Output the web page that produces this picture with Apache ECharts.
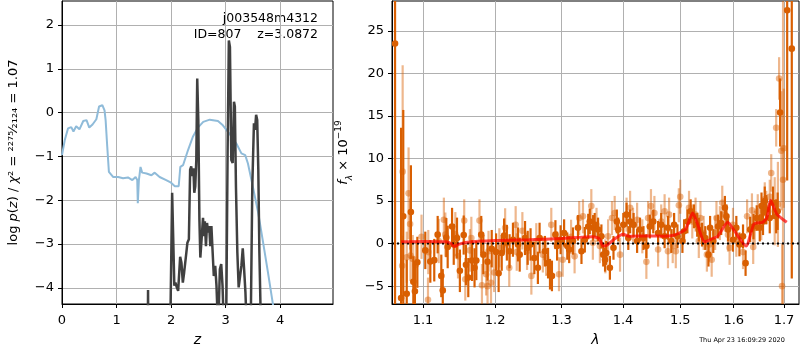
<!DOCTYPE html>
<html><head><meta charset="utf-8">
<script src="https://cdn.jsdelivr.net/npm/echarts@6/dist/echarts.min.js"></script>
<style>html,body{margin:0;padding:0;background:#fff}#c{width:800px;height:350px}</style>
</head><body><div id="c"></div>
<script>
// ---------- left panel: redshift probability ----------
const zPrior = [0,0.05,0.11,0.17,0.21,0.26,0.32,0.39,0.45,0.50,0.56,0.63,0.68,0.74,0.78,0.80,0.83,0.86,0.94,1.03,1.12,1.21,1.29,1.35,1.38,1.39,1.41,1.44,1.47,1.55,1.64,1.70,1.79,1.91,2.00,2.07,2.14,2.17,2.22,2.31,2.40,2.50,2.59,2.71,2.86,2.95,3.07,3.20,3.29,3.36,3.41,3.50,3.60,3.69,3.78,3.86,3.92];
const logpPrior = [-0.97,-0.63,-0.36,-0.33,-0.43,-0.31,-0.38,-0.19,-0.17,-0.34,-0.27,-0.15,0.14,0.17,0.05,-0.17,-0.78,-1.35,-1.47,-1.47,-1.50,-1.48,-1.54,-1.47,-1.54,-2.07,-1.54,-1.24,-1.37,-1.39,-1.43,-1.37,-1.47,-1.54,-1.60,-1.68,-1.68,-1.24,-1.20,-0.86,-0.55,-0.33,-0.21,-0.16,-0.19,-0.29,-0.48,-0.71,-0.93,-0.97,-1.16,-1.69,-2.30,-2.98,-3.67,-4.31,-4.8];

const zFit = [1.50,1.570,1.578,1.586,1.60,1.985,2.02,2.06,2.08,2.105,2.13,2.167,2.19,2.216,2.24,2.28,2.30,2.327,2.35,2.37,2.39,2.41,2.426,2.444,2.463,2.48,2.50,2.52,2.537,2.56,2.586,2.605,2.62,2.64,2.66,2.68,2.70,2.72,2.74,2.76,2.784,2.81,2.833,2.864,2.895,2.92,2.944,2.97,3.01,3.037,3.06,3.08,3.105,3.13,3.154,3.17,3.19,3.216,3.24,3.265,3.29,3.315,3.34,3.364,3.39,3.46,3.49,3.52,3.54,3.56,3.58,3.60,3.62,3.65,3.70];
const logpFit = [-6,-6,-4.05,-6,-6,-5,-1.83,-3.95,-3.88,-3.99,-4.07,-3.29,-3.42,-3.88,-3.65,-3.20,-2.97,-2.89,-1.30,-1.23,-1.45,-1.27,-1.83,-1.68,-1.08,0.78,-0.17,-2.44,-3.31,-2.89,-2.40,-2.82,-2.48,-3.05,-2.52,-2.74,-2.59,-3.05,-2.59,-3.12,-3.73,-3.50,-3.95,-5,-3.58,-3.46,-3.95,-5,-5,-0.92,1.65,1.50,-1.08,-1.15,0.25,0.14,-1.68,-3.20,-3.99,-3.95,-3.50,-3.10,-3.58,-4.10,-5,-5,-1.68,-0.24,-0.39,-0.05,-0.17,-1.30,-3.20,-5,-6];

const zTicks = [0,1,2,3,4];
const logpTicks = [-4,-3,-2,-1,0,1,2];

// ---------- right panel: spectrum ----------
const darkLam = [1.0635,1.0713,1.0741,1.0786,1.0840,1.0872,1.0893,1.0925,1.1030,1.1097,1.1150,1.1196,1.1245,1.1265,1.1313,1.1332,1.1392,1.1415,1.1460,1.1500,1.1553,1.1585,1.1617,1.1670,1.1705,1.1730,1.1800,1.1830,1.1890,1.1950,1.2013,1.2050,1.2095,1.2130,1.2170,1.2210,1.2260,1.2335,1.2360,1.2440,1.2480,1.2523,1.2580,1.2634,1.2660,1.2742,1.2790,1.2820,1.2850,1.2904,1.2930,1.2985,1.3040,1.3090,1.3120,1.3180,1.3260,1.3316,1.3370,1.3425,1.3450,1.3505,1.3530,1.3585,1.3640,1.3670,1.3700,1.3720,1.3780,1.3840,1.3896,1.3920,1.4005,1.4060,1.4090,1.4120,1.4180,1.4240,1.4290,1.4350,1.4400,1.4460,1.4520,1.4605,1.4660,1.4720,1.4780,1.4840,1.4890,1.4950,1.5040,1.5070,1.5130,1.5190,1.5250,1.5310,1.5340,1.5400,1.5460,1.5520,1.5550,1.5610,1.5700,1.5760,1.5830,1.5860,1.5890,1.5985,1.6050,1.6110,1.6180,1.6230,1.6320,1.6385,1.6450,1.6510,1.6545,1.6575,1.6610,1.6640,1.6710,1.6775,1.6840,1.6870,1.6920,1.7065,1.7160];
const darkFlux = [23.5,-6.4,3.2,-5.9,3.7,-4.5,-5.6,-2.2,-0.8,-2.1,-1.95,1.05,-3.8,-5.5,0.7,-0.4,2.0,-0.1,0.65,-3.2,1.0,-2.5,-4.0,-2.0,-2.85,-2.0,1.05,-1.3,-2.15,-0.6,-1.0,-3.5,-1.1,0.95,0.1,-0.9,0.45,-0.1,-1.3,0.65,-0.5,-0.1,-1.7,-2.85,0.65,-0.9,-2.3,-3.6,-3.8,1.05,-0.3,0.45,1.25,-0.3,-0.7,0.3,1.85,-0.9,0.45,2.0,2.6,1.85,2.2,1.65,0.85,-1.3,-1.9,-1.1,-2.85,-0.5,2.6,1.65,2.2,3.4,0.65,2.6,2.2,0.3,1.65,0.65,-0.3,2.0,2.6,1.25,2.2,0.85,1.85,0.3,2.2,0.85,0.3,1.45,2.6,3.8,3.2,2.2,1.65,1.05,0.65,-1.3,1.85,0.3,2.0,2.4,4.2,3.2,1.65,0.45,1.85,-0.1,0.85,-2.3,1.65,2.0,3.0,1.85,4.4,2.6,5.0,4.0,3.0,4.8,3.2,3.8,15.4,27.4,22.9];
const darkErr = [32,20,12.5,4,5.5,3,3.5,3,2.2,2.5,2.5,2.2,2.5,2.5,2.3,2.5,2.2,2.4,2.4,2.5,2.3,2.4,2.3,2.4,2.3,2.3,2.2,2.3,2.2,2.2,2.2,2.2,2.1,2.0,2.1,2.0,2.0,2.0,2.0,2.0,2.0,1.9,1.9,1.9,1.8,1.8,1.8,1.8,1.8,1.7,1.7,1.7,1.6,1.6,1.6,1.6,1.5,1.5,1.5,1.5,1.5,1.5,1.4,1.4,1.4,1.4,1.4,1.4,1.4,1.4,1.4,1.4,1.4,1.4,1.4,1.4,1.4,1.4,1.4,1.4,1.4,1.4,1.4,1.4,1.4,1.4,1.4,1.4,1.4,1.4,1.4,1.4,1.4,1.4,1.4,1.4,1.4,1.4,1.4,1.4,1.4,1.4,1.4,1.4,1.4,1.4,1.4,1.4,1.4,1.4,1.4,1.5,1.5,1.5,1.5,1.6,1.6,1.6,1.7,1.7,1.8,1.9,2.0,2.2,4.0,20,27];

const lightLam = [1.0727,1.0733,1.0786,1.0810,1.0830,1.0835,1.0865,1.0905,1.0980,1.1066,1.1070,1.1210,1.1280,1.1300,1.1437,1.1474,1.1560,1.1575,1.1640,1.1660,1.1775,1.1810,1.1870,1.1890,1.1904,1.1940,1.1985,1.2060,1.2145,1.2205,1.2300,1.2316,1.2400,1.2470,1.2535,1.2610,1.2710,1.2760,1.2840,1.2960,1.3018,1.3150,1.3206,1.3280,1.3340,1.3475,1.3500,1.3560,1.3615,1.3705,1.3750,1.3815,1.3860,1.3950,1.4060,1.4120,1.4170,1.4240,1.4330,1.4400,1.4430,1.4480,1.4540,1.4605,1.4660,1.4720,1.4780,1.4800,1.4865,1.4920,1.4975,1.5000,1.5160,1.5220,1.5280,1.5340,1.5370,1.5430,1.5490,1.5535,1.5580,1.5645,1.5670,1.5735,1.5780,1.5830,1.5890,1.5920,1.5985,1.6050,1.6180,1.6260,1.6355,1.6380,1.6410,1.6470,1.6540,1.6610,1.6640,1.6710,1.6740,1.6810,1.6840,1.6875,1.6900,1.6945,1.6960,1.6980,1.6995,1.7030];
const lightFlux = [-2.6,8.45,-1.6,5.9,2.3,-1.4,-1.8,-2.5,0.8,-6.6,-1.0,0.3,2.8,1.05,1.1,-1.5,2.7,-4.2,-0.8,0.65,2.7,-4.9,-3.6,-5.0,-0.9,-4.6,-3.4,-0.5,1.85,-2.85,2.2,-1.0,1.5,-0.9,-3.8,0.3,-1.3,-1.7,2.2,-3.6,-1.9,0.8,-1.5,3.0,3.2,4.4,0.1,2.2,-0.3,-1.5,0.85,3.0,3.6,-1.3,3.4,4.2,2.2,2.8,0.85,-2.15,3.0,4.4,3.6,-0.7,2.6,3.8,-0.9,3.4,-0.3,-0.9,4.5,5.5,4.2,2.6,3.4,0.3,3.0,1.25,-1.3,-0.1,-1.9,1.25,3.0,2.4,4.8,3.4,1.05,-0.5,2.2,0.45,-1.0,3.2,3.9,-0.4,1.85,3.8,2.4,5.2,4.2,5.5,8.3,3.8,13.6,4.6,19.4,10.9,-5.0,7.5,11.2];
const lightErr = [3.5,12.5,3,5.4,3,3,2.8,2.8,2.6,2.6,2.6,2.6,2.6,2.6,2.6,2.6,2.5,2.5,2.5,2.5,2.5,2.5,2.5,2.5,2.4,2.4,2.3,2.3,2.3,2.2,2.2,2.2,2.2,2.2,2.2,2.1,2.1,2.1,2.0,2.0,2.0,2.0,2.0,2.0,2.0,2.0,2.0,2.0,2.0,2.0,2.0,2.0,2.0,2.0,2.0,2.0,2.0,2.0,2.0,2.0,2.0,2.0,2.0,2.0,2.0,2.0,2.0,2.0,2.0,2.0,2.0,2.0,2.0,2.0,2.0,2.0,2.0,2.0,2.0,2.0,2.0,2.0,2.0,2.0,2.0,2.0,2.0,2.0,2.0,2.0,2.0,2.0,2.0,2.0,2.0,2.0,2.0,2.0,2.0,2.0,2.2,4.0,2.2,5,2.5,7,5,30,7,4];

const modelLam = [1.0713,1.10,1.13,1.138,1.1425,1.148,1.16,1.20,1.25,1.30,1.35,1.36,1.367,1.373,1.385,1.40,1.41,1.45,1.47,1.49,1.50,1.51,1.5227,1.53,1.5447,1.56,1.57,1.5884,1.60,1.6239,1.6396,1.6567,1.665,1.6728,1.685,1.7056];
const modelFlux = [0.2,0.25,0.2,0.0,-0.35,-0.1,0.15,0.35,0.45,0.6,0.8,0.6,-0.3,-0.2,0.5,1.1,0.85,0.9,0.85,1.0,1.3,1.7,3.6,2.6,0.2,0.6,0.9,2.5,1.6,-0.3,2.3,2.5,3.0,5.1,3.5,2.5];

const lamTicks = [1.1,1.2,1.3,1.4,1.5,1.6,1.7];
const fluxTicks = [-5,0,5,10,15,20,25];

const titleLines = ['j003548m4312', 'ID=807    z=3.0872'];
const stamp = 'Thu Apr 23 16:09:29 2020';

// ---------- chart ----------
const FONT = 'DejaVu Sans';
const fmtMinus = v => String(v).replace('-', '\u2212');
const lamMin = 1.0596, lamMax = 1.731;

function axisBase(extra) {
  return Object.assign({
    type: 'value',
    axisLine: {show: true, onZero: false, lineStyle: {color: '#000', width: 1}},
    axisTick: {show: true, length: 4, lineStyle: {color: '#000', width: 1}},
    axisLabel: {color: '#000', fontSize: 13, fontFamily: FONT, margin: 5, formatter: fmtMinus},
    splitLine: {show: true, lineStyle: {color: '#b0b0b0', width: 1}},
    nameTextStyle: {color: '#000', fontFamily: FONT, fontSize: 14}
  }, extra);
}

function errRender(color, opacity) {
  return function (params, api) {
    const x = api.value(0), y = api.value(1), e = api.value(2);
    const p = api.coord([x, y]);
    const lo = api.coord([x, y - e]);
    const hi = api.coord([x, y + e]);
    return {
      type: 'group',
      children: [
        {type: 'line', shape: {x1: p[0], y1: lo[1], x2: p[0], y2: hi[1]}, style: {stroke: color, lineWidth: 2.2, opacity: opacity}},
        {type: 'circle', shape: {cx: p[0], cy: p[1], r: 3.3}, style: {fill: color, opacity: opacity}}
      ]
    };
  };
}

const chart = echarts.init(document.getElementById('c'));
chart.setOption({
  animation: false,
  backgroundColor: '#fff',
  grid: [
    {left: 62, top: 1, width: 271, height: 303, show: true, borderColor: '#000', borderWidth: 1, backgroundColor: 'transparent', containLabel: false, outerBoundsMode: 'none'},
    {left: 392, top: 1, width: 407, height: 303, show: true, borderColor: '#000', borderWidth: 1, backgroundColor: 'transparent', containLabel: false, outerBoundsMode: 'none'}
  ],
  xAxis: [
    axisBase({gridIndex: 0, min: 0, max: 4.97,
      axisTick: {show: true, length: 4, lineStyle: {color: '#000'}, customValues: zTicks},
      axisLabel: {color: '#000', fontSize: 13, fontFamily: FONT, margin: 10, customValues: zTicks, formatter: fmtMinus},
      name: 'z', nameLocation: 'middle', nameGap: 29,
      nameTextStyle: {color: '#000', fontFamily: FONT, fontSize: 14, fontStyle: 'italic'}}),
    axisBase({gridIndex: 1, min: Math.log(lamMin), max: Math.log(lamMax),
      axisTick: {show: true, length: 4, lineStyle: {color: '#000'}, customValues: lamTicks.map(Math.log)},
      axisLabel: {color: '#000', fontSize: 13, fontFamily: FONT, margin: 10, customValues: lamTicks.map(Math.log),
        formatter: v => Math.exp(v).toFixed(1)},
      name: 'λ', nameLocation: 'middle', nameGap: 29,
      nameTextStyle: {color: '#000', fontFamily: FONT, fontSize: 14, fontStyle: 'italic'}})
  ],
  yAxis: [
    axisBase({gridIndex: 0, min: -4.37, max: 2.55,
      axisTick: {show: true, length: 4, lineStyle: {color: '#000'}, customValues: logpTicks},
      axisLabel: {color: '#000', fontSize: 13, fontFamily: FONT, margin: 8, customValues: logpTicks, formatter: fmtMinus},
      name: '{n|log }{i|p}{n|(}{i|z}{n|) / }{i|χ}{n|² = ²²⁷⁵⁄₂₁₂₄ = 1.07}',
      nameLocation: 'middle', nameGap: 42,
      nameTextStyle: {color: '#000', fontFamily: FONT, fontSize: 13,
        rich: {n: {fontFamily: FONT, fontSize: 13, color: '#000'}, i: {fontFamily: FONT, fontSize: 13, fontStyle: 'italic', color: '#000'}}}}),
    axisBase({gridIndex: 1, min: -7.1, max: 28.5,
      axisTick: {show: true, length: 4, lineStyle: {color: '#000'}, customValues: fluxTicks},
      axisLabel: {color: '#000', fontSize: 13, fontFamily: FONT, margin: 8, customValues: fluxTicks, formatter: fmtMinus},
      name: '{i|f}{sub|λ}{n| × 10}{sup|−19}',
      nameLocation: 'middle', nameGap: 38,
      nameTextStyle: {color: '#000', fontFamily: FONT, fontSize: 13,
        rich: {
          n: {fontFamily: FONT, fontSize: 13, color: '#000', lineHeight: 20},
          i: {fontFamily: FONT, fontSize: 13, fontStyle: 'italic', color: '#000', lineHeight: 20},
          sub: {fontFamily: FONT, fontSize: 9, fontStyle: 'italic', color: '#000', verticalAlign: 'bottom', lineHeight: 20},
          sup: {fontFamily: FONT, fontSize: 9, color: '#000', verticalAlign: 'top', lineHeight: 20}
        }}})
  ],
  graphic: [
    {type: 'text', x: 318, y: 19, style: {text: titleLines[0], fill: '#000', font: '12.5px "DejaVu Sans"', textAlign: 'right', textVerticalAlign: 'middle'}},
    {type: 'text', x: 318, y: 35, style: {text: titleLines[1], fill: '#000', font: '12.5px "DejaVu Sans"', textAlign: 'right', textVerticalAlign: 'middle'}},
    {type: 'text', x: 742, y: 340, style: {text: stamp, fill: '#000', font: '6.5px "DejaVu Sans"', textAlign: 'center', textVerticalAlign: 'middle'}}
  ],
  series: [
    {type: 'line', xAxisIndex: 0, yAxisIndex: 0, data: zPrior.map((z, i) => [z, logpPrior[i]]),
      showSymbol: false, symbol: 'none', clip: true, lineStyle: {color: '#8fbbd9', width: 2}, silent: true, z: 2},
    {type: 'line', xAxisIndex: 0, yAxisIndex: 0, data: zFit.map((z, i) => [z, logpFit[i]]),
      showSymbol: false, symbol: 'none', clip: true, lineStyle: {color: '#404040', width: 2.5}, silent: true, z: 3},
    {type: 'custom', xAxisIndex: 1, yAxisIndex: 1, clip: true, silent: true, z: 2,
      data: darkLam.map((l, i) => [Math.log(l), darkFlux[i], darkErr[i]]),
      renderItem: errRender('#d95f02', 1)},
    {type: 'custom', xAxisIndex: 1, yAxisIndex: 1, clip: true, silent: true, z: 3,
      data: lightLam.map((l, i) => [Math.log(l), lightFlux[i], lightErr[i]]),
      renderItem: errRender('#d95f02', 0.45)},
    {type: 'line', xAxisIndex: 1, yAxisIndex: 1, data: [[Math.log(lamMin), 0], [Math.log(lamMax), 0]],
      showSymbol: false, symbol: 'none', lineStyle: {color: '#000', width: 2, type: [2, 3]}, silent: true, z: 4},
    {type: 'line', xAxisIndex: 1, yAxisIndex: 1, data: modelLam.map((l, i) => [Math.log(l), modelFlux[i]]),
      showSymbol: false, symbol: 'none', smooth: 0.2, lineStyle: {color: 'rgba(255,0,0,0.7)', width: 3}, silent: true, z: 5}
  ]
});
</script></body></html>
